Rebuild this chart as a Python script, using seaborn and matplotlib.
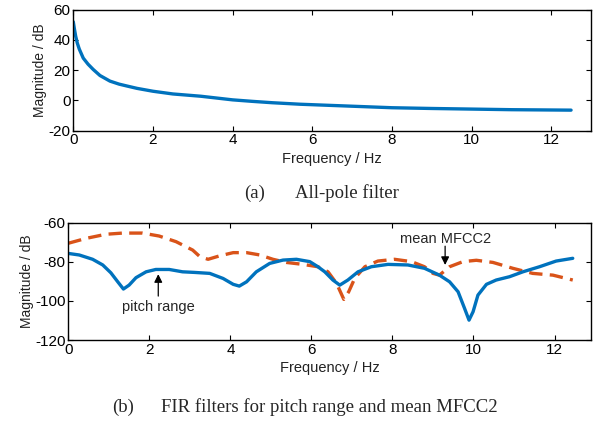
import numpy as np
import pandas as pd
import matplotlib
matplotlib.use("Agg")
import matplotlib.pyplot as plt
import seaborn as sns

# ---- data ----
freq_a = [0, 0.03, 0.06, 0.1, 0.15, 0.25, 0.37, 0.5, 0.67, 0.92, 1.15, 1.34,
          1.6, 2.0, 2.5, 3.2, 4.0, 4.5, 5.0, 5.7, 6.5, 7.0, 8.0, 9.0, 10.0,
          11.0, 12.5]
allpole = [52, 47, 42.5, 38, 34, 28, 24, 20.5, 16.5, 12.8, 10.8, 9.6,
           8.0, 6.1, 4.3, 2.8, 0.4, -0.6, -1.5, -2.5, -3.3, -3.8, -4.8, -5.3,
           -5.7, -6.1, -6.4]

freq_pitch = [0, 0.27, 0.6, 0.85, 1.05, 1.22, 1.36, 1.5, 1.67, 1.92, 2.16, 2.49,
              2.82, 3.11, 3.49, 3.82, 4.07, 4.22, 4.4, 4.64, 4.97, 5.3, 5.63,
              5.96, 6.16, 6.33, 6.53, 6.7, 6.9, 7.15, 7.48, 7.89, 8.38, 8.79,
              9.16, 9.41, 9.62, 9.78, 9.89, 9.99, 10.11, 10.32, 10.56, 10.89,
              11.22, 11.63, 12.04, 12.45]
pitch = [-75.7, -76.5, -78.7, -81.6, -85.6, -90.2, -93.9, -91.9, -88.1, -85.1,
         -83.9, -83.9, -85.1, -85.4, -85.9, -88.5, -91.5, -92.4, -90.2, -85.1,
         -80.8, -79.1, -78.7, -79.9, -82.5, -85.1, -89.3, -91.9, -89.3, -85.1,
         -82.5, -81.3, -81.6, -83.3, -86.8, -90.2, -95.3, -103.8, -109.8,
         -105.5, -97, -91.5, -89.3, -87.6, -85.1, -82.5, -79.6, -78.2]

freq_mfcc = [0, 0.44, 0.93, 1.34, 1.83, 2.24, 2.66, 3.07, 3.25, 3.45, 3.74,
             4.07, 4.4, 4.73, 5.05, 5.38, 5.79, 6.16, 6.41, 6.62, 6.8, 6.92,
             7.07, 7.32, 7.64, 8.05, 8.47, 8.79, 9.0, 9.16, 9.41, 9.74, 10.07,
             10.48, 10.97, 11.46, 11.96, 12.45]
mfcc2 = [-70.5, -68, -65.9, -65.3, -65.3, -66.8, -69.7, -74, -77.4, -78.7,
         -76.9, -75.3, -75.3, -76.5, -78.7, -80.3, -81.3, -82.5, -85.1, -91,
         -99.2, -95.3, -88.4, -82.5, -79.6, -78.7, -79.9, -82.5, -85.9, -86.8,
         -82.5, -79.9, -79.2, -80.3, -83.3, -85.9, -86.8, -89.3]

xticks = [0, 2, 4, 6, 8, 10, 12]
yticks_a = [-20, 0, 20, 40, 60]
yticks_b = [-120, -100, -80, -60]

BLUE = "#0072BD"
ORANGE = "#D95319"

sns.set_style("ticks")
plt.rcParams["font.family"] = ["Liberation Sans", "DejaVu Sans"]
plt.rcParams["axes.unicode_minus"] = False

fig = plt.figure(figsize=(5.93, 4.23), dpi=100)
ax1 = fig.add_axes([0.1236, 0.691, 0.873, 0.286])
ax2 = fig.add_axes([0.1152, 0.196, 0.8814, 0.2775])

sns.lineplot(x=freq_a, y=allpole, ax=ax1, color=BLUE, linewidth=2.4)
sns.lineplot(x=freq_mfcc, y=mfcc2, ax=ax2, color=ORANGE, linewidth=2.4,
             linestyle=(0, (4, 2.2)))
sns.lineplot(x=freq_pitch, y=pitch, ax=ax2, color=BLUE, linewidth=2.4)

for ax, yt, ylim in [(ax1, yticks_a, (-20, 60)), (ax2, yticks_b, (-120, -60))]:
    ax.set_xlim(0, 13)
    ax.set_ylim(*ylim)
    ax.set_xticks(xticks)
    ax.set_yticks(yt)
    ax.tick_params(direction="in", top=True, right=True, length=3.5, width=0.8,
                   labelsize=11, colors="black", pad=2)
    for sp in ax.spines.values():
        sp.set_visible(True)
        sp.set_color("black")
        sp.set_linewidth(1.0)
    ax.set_xlabel("Frequency / Hz", fontsize=10.5, color="#222222", labelpad=3)
    ax.set_ylabel("Magnitude / dB", fontsize=10, color="#222222", labelpad=1)

ax2.set_xlim(0, 12.9)

# annotations
arrow = dict(arrowstyle="-|>", color="black", lw=0.9, mutation_scale=12,
             shrinkA=0, shrinkB=0)
ax2.annotate("", xy=(2.22, -86.3), xytext=(2.22, -97.5), arrowprops=arrow)
ax2.text(2.22, -103, "pitch range", ha="center", va="center", fontsize=10.5)
ax2.annotate("", xy=(9.3, -81.6), xytext=(9.3, -72), arrowprops=arrow)
ax2.text(9.31, -68.3, "mean MFCC2", ha="center", va="center", fontsize=10.5)

serif = ["Liberation Serif", "DejaVu Serif"]
fig.text(244 / 593, 1 - 193 / 423, "(a)", family=serif, fontsize=13.5,
         ha="left", va="center")
fig.text(295 / 593, 1 - 193 / 423, "All-pole filter", family=serif,
         fontsize=13.5, ha="left", va="center")
fig.text(112 / 593, 1 - 407 / 423, "(b)", family=serif, fontsize=13.5,
         ha="left", va="center")
fig.text(161 / 593, 1 - 407 / 423, "FIR filters for pitch range and mean MFCC2",
         family=serif, fontsize=13.5, ha="left", va="center")

fig.savefig("out.png", dpi=100)
